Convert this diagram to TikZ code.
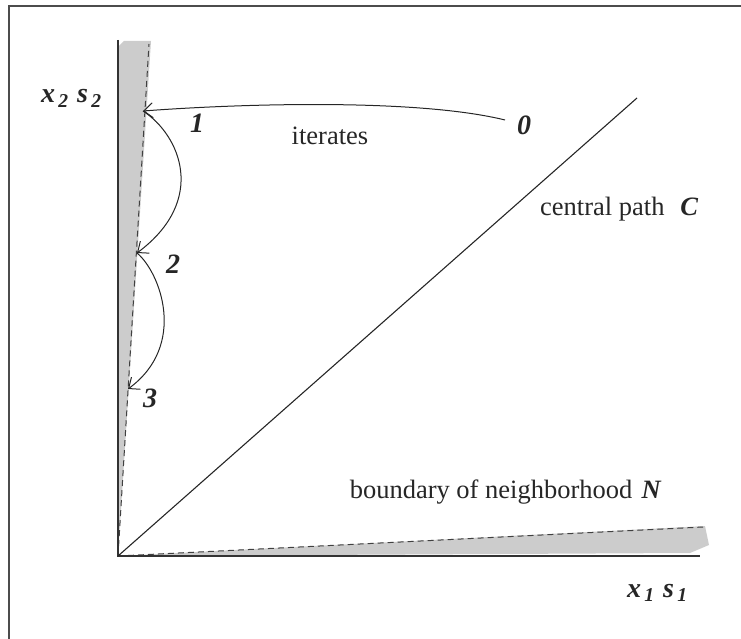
\documentclass[tikz,border=0pt]{standalone}
\usepackage{fontspec}
\setmainfont{Liberation Serif}
\usetikzlibrary{arrows.meta}
\begin{document}
\begin{tikzpicture}[x=1pt,y=-1pt,
  frame/.style={line width=2pt, draw=black!70},
  axis/.style={line width=1.4pt, draw=black!80},
  band/.style={fill=gray!40, draw=none},
  bound/.style={dash pattern=on 6pt off 4pt, line width=1pt, draw=black!75},
  cpath/.style={line width=1.1pt, draw=black!85},
  iter/.style={line width=1pt, draw=black!85, -{Straight Barb[length=9pt,width=15pt,line width=1pt]}},
  lbl/.style={inner sep=0pt, text=black!85, font=\fontsize{28}{32}\selectfont\bfseries\itshape},
  txt/.style={inner sep=0pt, text=black!85, font=\fontsize{26.5}{32}\selectfont}]
\useasboundingbox (0,0) rectangle (741,639);
% frame
\draw[frame] (9,639) -- (9,6) -- (741,6);
% shaded bands
\fill[band] (118,556) -- (118,47) -- (124,41) -- (151,41) -- cycle;
\fill[band] (118,556) -- (690,553) -- (709,545) -- (705,526) -- cycle;
% coordinates
\coordinate (O) at (118,556);
\coordinate (ytop) at (118,40);
\coordinate (xend) at (700,556);
\coordinate (vb) at (149,44);
\coordinate (hb) at (703,527);
\coordinate (ctop) at (637,98);
\coordinate (p0) at (505,120);
\coordinate (p1) at (143,111);
\coordinate (p2) at (137,253);
\coordinate (p3) at (128,389);
% boundaries and axes
\draw[bound] (O) -- (vb);
\draw[bound] (O) -- (hb);
\draw[axis] (ytop) -- (O) -- (xend);
\draw[cpath] (O) -- (ctop);
% iterates
\draw[iter] (p0) .. controls (420,99) and (250,103) .. (p1);
\draw[iter] (p1) .. controls (180,135) and (208,200) .. (p2);
\draw[iter] (p2) .. controls (160,272) and (188,345) .. (p3);
% labels
\node[lbl, anchor=base] (l0) at (524,135) {0};
\node[lbl, anchor=base] (l1) at (197,133) {1};
\node[lbl, anchor=base] (l2) at (173,273) {2};
\node[lbl, anchor=base] (l3) at (150,407) {3};
\node[txt, anchor=base] (it) at (330,145) {iterates};
\node[txt, anchor=base west] (cp) at (540,215) {central path\hspace{0.6em}{\bfseries\itshape C}};
\node[txt, anchor=base east] (bn) at (661,498) {boundary of neighborhood\hspace{0.35em}{\bfseries\itshape N}};
\node[lbl, anchor=base west] (ax2) at (41,103) {x\textsubscript{\,2}\hspace{0.3em}s\textsubscript{\,2}};
\node[lbl, anchor=base west] (ax1) at (627,597) {x\textsubscript{\,1}\hspace{0.3em}s\textsubscript{\,1}};
\end{tikzpicture}
\end{document}
